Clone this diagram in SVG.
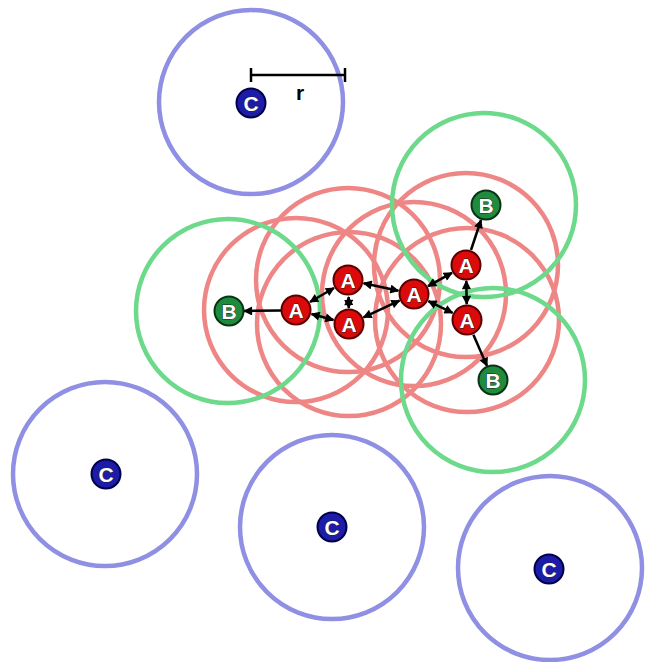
<svg xmlns="http://www.w3.org/2000/svg" width="645" height="662" viewBox="0 0 645 662">
<defs>
<marker id="ah" viewBox="0 0 10 10" refX="9" refY="5" markerWidth="10" markerHeight="9" markerUnits="userSpaceOnUse" orient="auto-start-reverse">
<path d="M0,0 L10,5 L0,10 z" fill="#000"/>
</marker>
</defs>
<style>
.rc{fill:none;stroke:#ef8686;stroke-width:4.5}
.gc{fill:none;stroke:#6cd98b;stroke-width:4.5}
.bc{fill:none;stroke:#8f8fe3;stroke-width:4.5}
.a{fill:#dc0a0a;stroke:#5a0000;stroke-width:2}
.b{fill:#1e8c3c;stroke:#0a3315;stroke-width:2}
.c{fill:#1c1ca8;stroke:#00004a;stroke-width:2}
.t{font-family:"Liberation Sans",Arial,sans-serif;font-weight:bold;font-size:21px;fill:#fff;text-anchor:middle;stroke:#222;stroke-width:0.8;paint-order:stroke}
.e{stroke:#000;stroke-width:2.5;fill:none}
.d{marker-start:url(#ah);marker-end:url(#ah)}
.s{marker-end:url(#ah)}
</style>
<rect width="645" height="662" fill="#fff"/>
<g id="ranges">
<circle class="rc" cx="296" cy="310" r="92"/>
<circle class="rc" cx="348" cy="280" r="92"/>
<circle class="rc" cx="349" cy="324" r="92"/>
<circle class="rc" cx="414" cy="294" r="92"/>
<circle class="rc" cx="466" cy="265" r="92"/>
<circle class="rc" cx="467" cy="320" r="92"/>
<circle class="gc" cx="228" cy="311" r="92"/>
<circle class="gc" cx="484" cy="205" r="92"/>
<circle class="gc" cx="493" cy="380" r="92"/>
<circle class="bc" cx="251" cy="102" r="92"/>
<circle class="bc" cx="105" cy="474" r="92"/>
<circle class="bc" cx="332" cy="527" r="92"/>
<circle class="bc" cx="550" cy="568" r="92"/>
</g>
<g id="radius">
<line x1="251" y1="75" x2="345" y2="75" stroke="#000" stroke-width="2.5"/>
<line x1="251" y1="68" x2="251" y2="82" stroke="#000" stroke-width="2.5"/>
<line x1="345" y1="68" x2="345" y2="82" stroke="#000" stroke-width="2.5"/>
<text x="300" y="100" font-family="Liberation Sans,Arial,sans-serif" font-weight="bold" font-size="21" fill="#000" text-anchor="middle">r</text>
</g>
<g id="connectors">
<line class="e s" x1="282" y1="310.5" x2="244" y2="311"/>
<line class="e d" x1="310" y1="302" x2="334" y2="288"/>
<line class="e d" x1="311.5" y1="314" x2="333.5" y2="320"/>
<line class="e d" x1="363.6" y1="283.3" x2="398.4" y2="290.7"/>
<line class="e d" x1="363.5" y1="317.3" x2="399.5" y2="300.7"/>
<line class="e d" x1="428" y1="286.2" x2="452" y2="272.8"/>
<line class="e d" x1="428.4" y1="301.1" x2="452.6" y2="312.9"/>
<line class="e d" x1="466.3" y1="281" x2="466.7" y2="304"/>
<line class="e d" x1="348.6" y1="297" x2="348.8" y2="308"/>
<line class="e s" x1="471" y1="250" x2="481" y2="220"/>
<line class="e s" x1="473.4" y1="334.7" x2="487" y2="366"/>
</g>
<g id="A1"><circle class="a" cx="296" cy="310" r="14.5"/><text class="t" x="296" y="317.5">A</text></g>
<g id="A2"><circle class="a" cx="348" cy="280" r="14.5"/><text class="t" x="348" y="287.5">A</text></g>
<g id="A3"><circle class="a" cx="349" cy="324" r="14.5"/><text class="t" x="349" y="331.5">A</text></g>
<g id="A4"><circle class="a" cx="414" cy="294" r="14.5"/><text class="t" x="414" y="301.5">A</text></g>
<g id="A5"><circle class="a" cx="466" cy="265" r="14.5"/><text class="t" x="466" y="272.5">A</text></g>
<g id="A6"><circle class="a" cx="467" cy="320" r="14.5"/><text class="t" x="467" y="327.5">A</text></g>
<g id="B1"><circle class="b" cx="229" cy="311" r="14.5"/><text class="t" x="229" y="318.5">B</text></g>
<g id="B2"><circle class="b" cx="486" cy="205" r="14.5"/><text class="t" x="486" y="212.5">B</text></g>
<g id="B3"><circle class="b" cx="493" cy="380" r="14.5"/><text class="t" x="493" y="387.5">B</text></g>
<g id="C1"><circle class="c" cx="251" cy="103" r="14.5"/><text class="t" x="251" y="110.5">C</text></g>
<g id="C2"><circle class="c" cx="106" cy="474" r="14.5"/><text class="t" x="106" y="481.5">C</text></g>
<g id="C3"><circle class="c" cx="332" cy="527" r="14.5"/><text class="t" x="332" y="534.5">C</text></g>
<g id="C4"><circle class="c" cx="549" cy="569" r="14.5"/><text class="t" x="549" y="576.5">C</text></g>
</svg>
